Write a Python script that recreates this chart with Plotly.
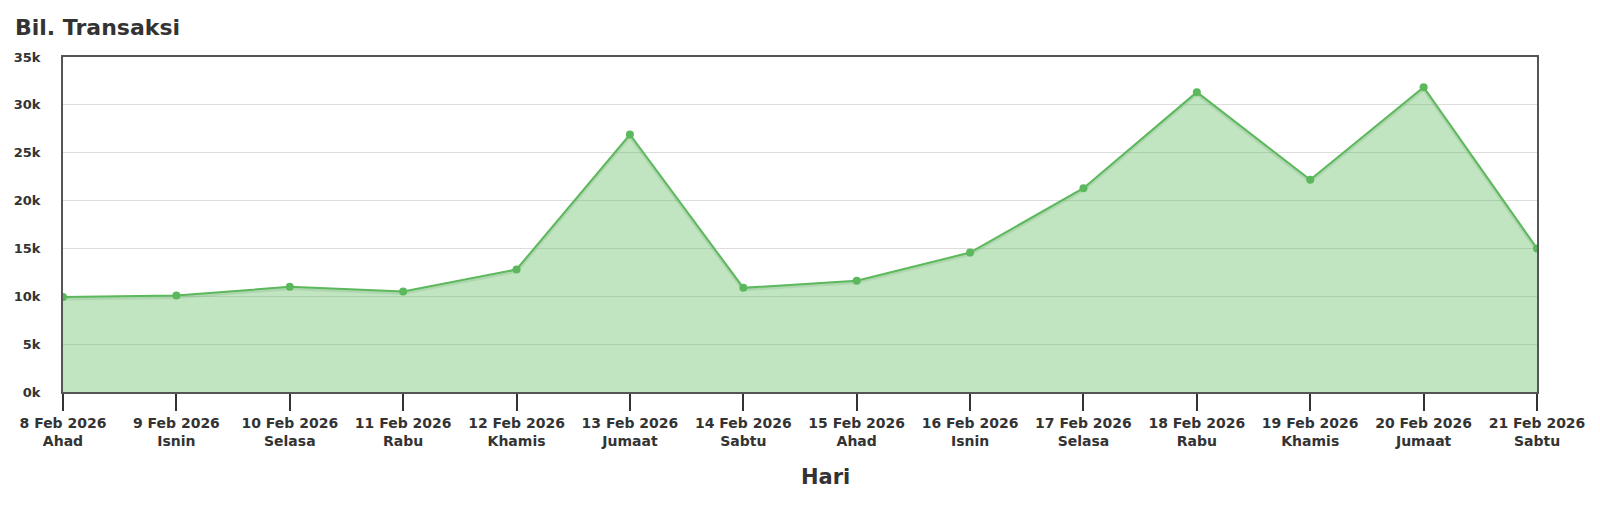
import plotly.graph_objects as go

dates = ["8 Feb 2026", "9 Feb 2026", "10 Feb 2026", "11 Feb 2026", "12 Feb 2026",
         "13 Feb 2026", "14 Feb 2026", "15 Feb 2026", "16 Feb 2026", "17 Feb 2026",
         "18 Feb 2026", "19 Feb 2026", "20 Feb 2026", "21 Feb 2026"]
days = ["Ahad", "Isnin", "Selasa", "Rabu", "Khamis", "Jumaat", "Sabtu",
        "Ahad", "Isnin", "Selasa", "Rabu", "Khamis", "Jumaat", "Sabtu"]
transactions = [9920, 10080, 10990, 10510, 12800, 26900, 10880,
                11630, 14570, 21290, 31330, 22170, 31850, 15000]
y_ticks = [0, 5000, 10000, 15000, 20000, 25000, 30000, 35000]
y_tick_labels = ["0k", "5k", "10k", "15k", "20k", "25k", "30k", "35k"]

FONT = "DejaVu Sans"
GREEN = "#5cb85c"

x_labels = [f"{d}<br>{w}" for d, w in zip(dates, days)]

fig = go.Figure()
# soft shadow under the line
fig.add_trace(go.Scatter(
    x=x_labels, y=[v - 150 for v in transactions],
    mode="lines", line=dict(color="rgba(60,120,60,0.15)", width=4),
    hoverinfo="skip",
))
fig.add_trace(go.Scatter(
    x=x_labels, y=transactions,
    mode="lines+markers",
    line=dict(color=GREEN, width=2),
    marker=dict(color=GREEN, size=8),
    fill="tozeroy",
    fillcolor="rgba(92,184,92,0.38)",
    hoverinfo="skip",
))

fig.update_layout(
    width=1600, height=523,
    margin=dict(l=55, r=71, t=49, b=139),
    paper_bgcolor="white", plot_bgcolor="white",
    showlegend=False,
    font=dict(family=FONT, color="#333"),
    title=dict(text="<b>Bil. Transaksi</b>", x=7/1600, xref="container", xanchor="left",
               y=1-19/523, yref="container", yanchor="middle",
               font=dict(family=FONT, size=22, color="#333")),
)
fig.update_xaxes(
    type="category", range=[0, len(dates)-1], automargin=False,
    showline=True, linecolor="#555", linewidth=2, mirror=True,
    ticks="outside", ticklen=17, tickcolor="#333", tickwidth=1.5,
    tickfont=dict(family=FONT, size=14, color="#333", weight="bold"),
    showgrid=False, zeroline=False,
)
fig.update_yaxes(
    range=[0, 35000], tickvals=y_ticks, ticktext=y_tick_labels, automargin=False,
    showline=True, linecolor="#555", linewidth=2, mirror=True,
    ticks="", ticklabelstandoff=18,
    tickfont=dict(family=FONT, size=13, color="#333", weight="bold"),
    showgrid=True, gridcolor="#dddddd", gridwidth=1, zeroline=False,
)
fig.add_annotation(
    text="<b>Hari</b>", xref="paper", yref="paper",
    x=(825.7-63)/1474, y=-(477-392)/335, xanchor="center", yanchor="middle",
    showarrow=False, font=dict(family=FONT, size=21, color="#333"),
)
fig.write_html("out.html")
